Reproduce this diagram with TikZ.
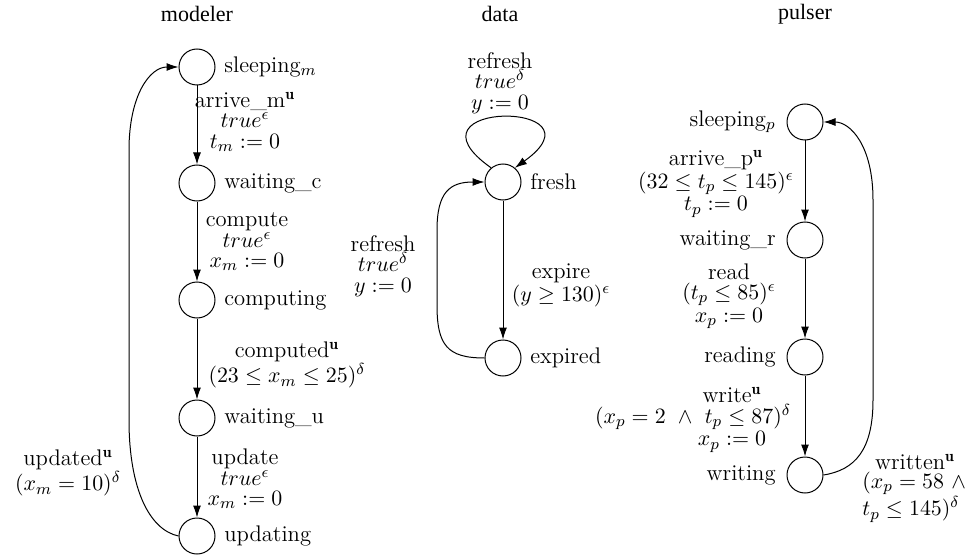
\documentclass[tikz,border=0pt]{standalone}
\usepackage{fontspec}
\newfontfamily\titlefont{Liberation Serif}
\usetikzlibrary{arrows.meta}
\begin{document}
\begin{tikzpicture}[x=0.5pt,y=-0.5pt,
  state/.style={circle,draw,line width=0.5pt,minimum size=18pt,inner sep=0pt},
  txt/.style={inner sep=0pt,font=\fontsize{11.3}{10.5}\selectfont},
  lbl/.style={inner sep=0pt,align=center,font=\fontsize{11.3}{10.2}\selectfont},
  ttl/.style={inner sep=0pt,font=\titlefont\fontsize{11}{13}\selectfont},
  edge/.style={line width=0.5pt,-{Latex[length=6pt,width=4pt]}}]
\useasboundingbox (0,0) rectangle (969,556);
% titles
\node[ttl] (t1) at (197,14) {modeler};
\node[ttl] (t2) at (500,14) {data};
\node[ttl] (t3) at (805,14) {pulser};
% modeler
\node[state] (ms) at (197,67) {};
\node[state] (mc) at (197,183) {};
\node[state] (mp) at (197,300) {};
\node[state] (mu) at (197,418) {};
\node[state] (md) at (197,536) {};
\node[txt,anchor=west] (msl) at (224,67) {sleeping$_m$};
\node[txt,anchor=west] (mcl) at (224,183) {waiting\_c};
\node[txt,anchor=west] (mpl) at (224,300) {computing};
\node[txt,anchor=west] (mul) at (224,418) {waiting\_u};
\node[txt,anchor=west] (mdl) at (224,536) {updating};
\draw[edge] (ms) -- (mc);
\draw[edge] (mc) -- (mp);
\draw[edge] (mp) -- (mu);
\draw[edge] (mu) -- (md);
\node[lbl] (e1) at (245,122) {arrive\_m$^{\mathbf u}$\\ $true^{\epsilon}$\\ $t_m:=0$};
\node[lbl] (e2) at (247,242) {compute\\ $true^{\epsilon}$\\ $x_m:=0$};
\node[lbl] (e3) at (287,365) {computed$^{\mathbf u}$\\ $(23\leq x_m\leq 25)^{\delta}$};
\node[lbl] (e4) at (245,479) {update\\ $true^{\epsilon}$\\ $x_m:=0$};
\node[lbl] (e5) at (68,473) {updated$^{\mathbf u}$\\ $(x_m=10)^{\delta}$};
\draw[edge] (md.west) .. controls (150,530) and (129,490) .. (129,420) -- (129,150) .. controls (129,95) and (150,67) .. (ms.west);
% data
\node[state] (fr) at (503,182) {};
\node[state] (ex) at (503,358) {};
\node[txt,anchor=west] (frl) at (530,182) {fresh};
\node[txt,anchor=west] (exl) at (530,358) {expired};
\draw[edge] (fr) -- (ex);
\draw[edge] (fr.130) .. controls (395,100) and (610,100) .. (fr.50);
\draw[edge] (ex.west) .. controls (447,358) and (437,345) .. (437,305) -- (437,230) .. controls (437,192) and (450,182) .. (fr.west);
\node[lbl] (e6) at (500,83) {refresh\\ $true^{\delta}$\\ $y:=0$};
\node[lbl] (e7) at (383,266) {refresh\\ $true^{\delta}$\\ $y:=0$};
\node[lbl] (e8) at (561,285) {expire\\ $(y\geq 130)^{\epsilon}$};
% pulser
\node[state] (sp) at (805,122) {};
\node[state] (wr) at (805,240) {};
\node[state] (rd) at (805,357) {};
\node[state] (wt) at (805,475) {};
\node[txt,anchor=east] (spl) at (776,122) {sleeping$_p$};
\node[txt,anchor=east] (wrl) at (776,240) {waiting\_r};
\node[txt,anchor=east] (rdl) at (776,357) {reading};
\node[txt,anchor=east] (wtl) at (776,475) {writing};
\draw[edge] (sp) -- (wr);
\draw[edge] (wr) -- (rd);
\draw[edge] (rd) -- (wt);
\draw[edge] (wt.east) .. controls (855,470) and (873,450) .. (873,400) -- (873,200) .. controls (873,145) and (850,122) .. (sp.east);
\node[lbl] (e9) at (716,184) {arrive\_p$^{\mathbf u}$\\ $(32\leq t_p\leq 145)^{\epsilon}$\\ $t_p:=0$};
\node[lbl] (e10) at (729,296) {read\\ $(t_p\leq 85)^{\epsilon}$\\ $x_p:=0$};
\node[lbl] (e11) at (732,420) {write$^{\mathbf u}$\\ $(x_p=2\ \wedge\ t_p\leq 87)^{\delta}$\rule{39pt}{0pt}\\ $x_p:=0$};
\node[lbl] (e12) at (915,462) {written$^{\mathbf u}$};
\node[lbl,anchor=west,align=left] (e13) at (862,497) {$(x_p=58\ \wedge$\\ $t_p\leq 145)^{\delta}$};
\end{tikzpicture}
\end{document}
